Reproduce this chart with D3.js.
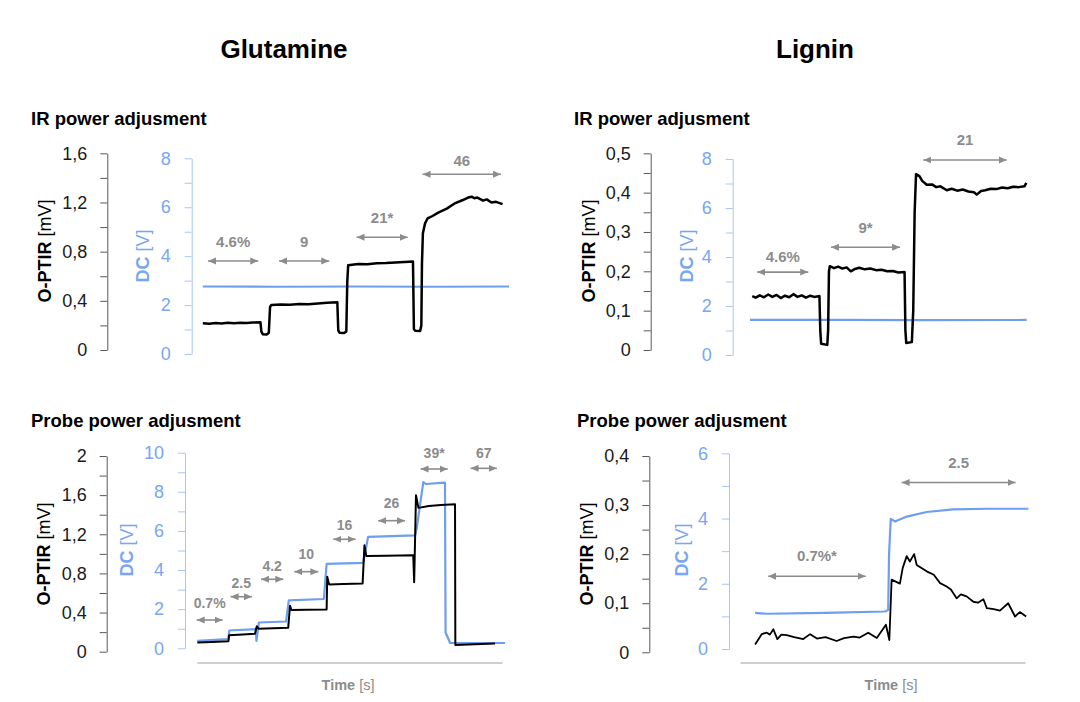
<!DOCTYPE html>
<html>
<head>
<meta charset="utf-8">
<script src="https://cdnjs.cloudflare.com/ajax/libs/d3/7.8.5/d3.min.js"></script>
<style>
  body { margin: 0; background: #fff; }
  svg { display: block; font-family: "Liberation Sans", Arial, sans-serif; }
</style>
</head>
<body>
<div id="chart"></div>
<script>
// ---- data: [time (arbitrary 0-100), value] ----
// Glutamine, IR power adjustment
var glnIrOptir = [[0.9,0.217],[3,0.214],[5,0.219],[7,0.216],[9,0.221],[11,0.218],[13,0.222],[15,0.219],[17,0.223],[19.5,0.225],[19.8,0.15],[20.3,0.128],[21.5,0.126],[22.2,0.14],[22.6,0.35],[23,0.366],[26,0.37],[29,0.368],[32,0.374],[35,0.372],[38,0.379],[41,0.384],[44.3,0.388],[44.6,0.16],[45,0.141],[46.5,0.138],[47.2,0.15],[47.5,0.55],[47.8,0.69],[51,0.7],[54,0.698],[57,0.706],[60,0.708],[63,0.712],[66,0.716],[68.7,0.72],[69,0.17],[69.4,0.157],[71,0.155],[71.4,0.2],[71.6,0.7],[71.9,0.95],[72.6,1.03],[73.4,1.07],[75,1.09],[77,1.12],[79.6,1.15],[82,1.19],[84.8,1.22],[86.5,1.24],[87.6,1.247],[88.5,1.235],[89.5,1.24],[91.3,1.215],[92.5,1.225],[94,1.2],[95.5,1.205],[97.6,1.186]];
var glnIrDc = [[0.9,2.76],[25,2.75],[50,2.76],[75,2.75],[99.7,2.76]];
var glnIrNotes = [
  {label: '4.6%', t0: 2.6, t1: 18.8, level: 0.724, textLevel: 0.879},
  {label: '9', t0: 25.5, t1: 41.7, level: 0.724, textLevel: 0.879},
  {label: '21*', t0: 50.5, t1: 67, level: 0.917, textLevel: 1.074},
  {label: '46', t0: 71.8, t1: 97.1, level: 1.43, textLevel: 1.538}
];

// Lignin, IR power adjustment
var ligIrOptir = [[0.8,0.137],[2,0.133],[3.5,0.139],[5,0.134],[6.5,0.141],[8,0.135],[9.5,0.14],[11,0.132],[12.5,0.138],[14,0.134],[15.5,0.142],[17,0.135],[18.5,0.139],[20,0.133],[21.5,0.138],[23,0.135],[24.8,0.137],[25.1,0.05],[25.4,0.016],[27.6,0.013],[27.9,0.05],[28.2,0.2],[28.5,0.213],[30,0.208],[31.5,0.212],[33,0.207],[34.5,0.21],[36,0.2],[37.5,0.206],[39,0.209],[41,0.205],[43,0.207],[45,0.203],[47,0.204],[49,0.2],[51,0.201],[53,0.197],[55.2,0.198],[55.5,0.05],[55.8,0.018],[57.8,0.02],[58.3,0.1],[58.8,0.35],[59.3,0.447],[60.5,0.442],[61.5,0.43],[63.1,0.42],[65,0.421],[66.5,0.414],[68,0.416],[70.3,0.406],[72,0.41],[74,0.405],[76,0.408],[78,0.403],[80,0.401],[81,0.395],[82.5,0.404],[84,0.406],[86,0.41],[88,0.409],[90,0.413],[92,0.411],[94,0.415],[96,0.414],[98,0.416],[98.7,0.425]];
var ligIrDc = [[0,1.43],[30,1.43],[60,1.42],[98.8,1.43]];
var ligIrNotes = [
  {label: '4.6%', t0: 2.6, t1: 20.8, level: 0.198, textLevel: 0.237},
  {label: '9*', t0: 28.9, t1: 53.6, level: 0.261, textLevel: 0.312},
  {label: '21', t0: 61.9, t1: 91.7, level: 0.483, textLevel: 0.534}
];

// Glutamine, probe power adjustment
var glnProbeOptir = [[0.1,0.095],[5,0.1],[10.3,0.108],[10.5,0.167],[15,0.176],[19,0.184],[19.6,0.26],[20.2,0.235],[25,0.24],[29.9,0.245],[30.5,0.47],[31,0.425],[36,0.428],[42.5,0.432],[42.7,0.767],[43.3,0.688],[48,0.692],[54.3,0.698],[54.9,1.087],[55.5,0.977],[62,0.98],[70.9,0.985],[71.2,0.71],[71.8,1.6],[72.6,1.47],[76,1.49],[80,1.5],[84.6,1.506],[84.7,0.068],[91,0.075],[97.7,0.085]];
var glnProbeDc = [[0.1,0.38],[10.3,0.47],[10.6,0.91],[19.3,0.98],[19.5,0.38],[20.3,1.32],[29.2,1.37],[30.1,2.45],[41.6,2.52],[42.5,4.32],[54.5,4.37],[56.1,5.7],[71.5,5.77],[72,6.1],[74.2,8.5],[75,8.4],[81.3,8.47],[81.5,0.81],[83,0.27],[101,0.27]];
var glnProbeNotes = [
  {label: '0.7%', t0: -0.1, t1: 8.4, level: 0.324, textLevel: 0.495},
  {label: '2.5', t0: 11, t1: 18, level: 0.562, textLevel: 0.705},
  {label: '4.2', t0: 21, t1: 28.3, level: 0.74, textLevel: 0.876},
  {label: '10', t0: 31.9, t1: 39.8, level: 0.818, textLevel: 0.998},
  {label: '16', t0: 44.7, t1: 52, level: 1.149, textLevel: 1.295},
  {label: '26', t0: 59.4, t1: 68.2, level: 1.339, textLevel: 1.517},
  {label: '39*', t0: 73.3, t1: 82.2, level: 1.867, textLevel: 2.034},
  {label: '67', t0: 89.7, t1: 98.3, level: 1.874, textLevel: 2.034}
];

// Lignin, probe power adjustment
var ligProbeOptir = [[5.3,0.016],[7.6,0.037],[9.4,0.04],[10.5,0.036],[11.7,0.047],[13.1,0.027],[14.5,0.036],[16.4,0.035],[19,0.031],[22.2,0.027],[24.6,0.037],[27,0.028],[30,0.031],[33.9,0.023],[36.5,0.029],[39.8,0.032],[42,0.03],[45,0.04],[48,0.029],[51.2,0.056],[52.4,0.025],[53.2,0.148],[56.1,0.14],[57.1,0.172],[58.5,0.196],[59.6,0.185],[61.1,0.2],[62,0.178],[65.5,0.165],[68,0.158],[70.2,0.141],[72.5,0.134],[74,0.128],[76,0.11],[77.5,0.118],[79.5,0.114],[81.9,0.103],[83.5,0.101],[85.4,0.108],[86.6,0.09],[89,0.088],[91.2,0.085],[94.1,0.1],[96.5,0.073],[98.2,0.082],[100.4,0.073]];
var ligProbeDc = [[5.3,1.11],[9.4,1.08],[30,1.11],[50.9,1.15],[52,1.2],[52.3,2.9],[52.9,3.99],[54.4,3.91],[58.5,4.06],[65.5,4.2],[74.8,4.28],[86.6,4.3],[101.2,4.3]];
var ligProbeNotes = [
  {label: '0.7%*', t0: 9.9, t1: 44.1, level: 0.155, textLevel: 0.196},
  {label: '2.5', t0: 56.7, t1: 96.7, level: 0.346, textLevel: 0.387}
];

// ---- layout ----
var panels = [
  {title: 'IR power adjusment', tx: 31, ty: 125, optir: glnIrOptir, dc: glnIrDc, notes: glnIrNotes,
   x0: 200, x1: 510, lMax: 1.6, lStep: 0.4, lB: 350, lT: 153.3, lAx: 107.3,
   dMax: 8, dB: 354, dT: 158.3, dAx: 191.7, labL: [45, 251], labD: [142.7, 256],
   lw: 2.5, timeAxis: false, noteSize: 15},
  {title: 'IR power adjusment', tx: 574, ty: 125, optir: ligIrOptir, dc: ligIrDc, notes: ligIrNotes,
   x0: 750, x1: 1030, lMax: 0.5, lStep: 0.1, lB: 350, lT: 153.3, lAx: 650.7,
   dMax: 8, dB: 355, dT: 159, dAx: 732.7, labL: [588.3, 251], labD: [686.7, 256],
   lw: 2.5, timeAxis: false, noteSize: 15},
  {title: 'Probe power adjusment', tx: 31, ty: 427, optir: glnProbeOptir, dc: glnProbeDc, notes: glnProbeNotes,
   x0: 197, x1: 502, lMax: 2, lStep: 0.4, lB: 651.7, lT: 456, lAx: 106.7,
   dMax: 10, dB: 648.3, dT: 452.7, dAx: 185, labL: [43.3, 554], labD: [126.7, 550],
   lw: 2, timeAxis: true, timeX: 348, noteSize: 14},
  {title: 'Probe power adjusment', tx: 577, ty: 427, optir: ligProbeOptir, dc: ligProbeDc, notes: ligProbeNotes,
   x0: 740, x1: 1025, lMax: 0.4, lStep: 0.1, lB: 652.3, lT: 456, lAx: 649.3,
   dMax: 6, dB: 649, dT: 453.3, dAx: 729, labL: [586.7, 554], labD: [681.7, 550],
   lw: 1.8, timeAxis: true, timeX: 891, noteSize: 15}
];

var BLUE = '#6d9ef0', BLUE_TXT = '#78a6f5', BLUE_AXIS = '#a9c5f5', GREY = '#8c8c8c';

var svg = d3.select('#chart').append('svg')
  .attr('width', 1080)
  .attr('height', 702);

svg.append('defs').append('marker')
  .attr('id', 'arrowhead')
  .attr('markerUnits', 'userSpaceOnUse')
  .attr('markerWidth', 9).attr('markerHeight', 8)
  .attr('refX', 8).attr('refY', 4)
  .attr('orient', 'auto-start-reverse')
  .append('path')
  .attr('d', 'M0,0.5 L8,4 L0,7.5 Z')
  .attr('fill', GREY);

// column headings
svg.append('text').attr('x', 284).attr('y', 58).attr('text-anchor', 'middle')
  .style('font-size', '26px').style('font-weight', 'bold').text('Glutamine');
svg.append('text').attr('x', 815).attr('y', 58).attr('text-anchor', 'middle')
  .style('font-size', '26px').style('font-weight', 'bold').text('Lignin');

function isMultiple(d, step){
  var r = d / step;
  return Math.abs(r - Math.round(r)) < 1e-6;
}

function comma(d){
  return d3.format('.1~f')(d).replace('.', ',');
}

function drawPanel(p){
  var g = svg.append('g');
  var x = d3.scaleLinear().domain([0, 100]).range([p.x0, p.x1]);
  var yL = d3.scaleLinear().domain([0, p.lMax]).range([p.lB, p.lT]);
  var yD = d3.scaleLinear().domain([0, p.dMax]).range([p.dB, p.dT]);

  g.append('text').attr('x', p.tx).attr('y', p.ty)
    .style('font-size', '18.5px').style('font-weight', 'bold').text(p.title);

  // O-PTIR axis
  var lTicks = d3.range(0, p.lMax + 1e-9, p.lStep / 2);
  var axL = g.append('g').attr('transform', 'translate(' + p.lAx + ',0)')
    .call(d3.axisLeft(yL).tickValues(lTicks).tickSize(7).tickSizeOuter(0).tickPadding(13)
      .tickFormat(function(d){ return isMultiple(d, p.lStep) ? comma(d) : ''; }));
  axL.select('.domain').attr('stroke', '#595959');
  axL.selectAll('.tick line').attr('stroke', '#595959');
  axL.selectAll('.tick text').attr('fill', '#1a1a1a').style('font-size', '18px')
    .style('font-family', '"Liberation Sans", Arial, sans-serif');

  // DC axis
  var dTicks = d3.range(0, p.dMax + 1e-9, 1);
  var axD = g.append('g').attr('transform', 'translate(' + p.dAx + ',0)')
    .call(d3.axisLeft(yD).tickValues(dTicks).tickSize(7).tickSizeOuter(0).tickPadding(14)
      .tickFormat(function(d){ return d % 2 === 0 ? d : ''; }));
  axD.select('.domain').attr('stroke', BLUE_AXIS);
  axD.selectAll('.tick line').attr('stroke', BLUE_AXIS);
  axD.selectAll('.tick text').attr('fill', BLUE_TXT).style('font-size', '18px')
    .style('font-family', '"Liberation Sans", Arial, sans-serif');

  // rotated axis titles
  var tL = g.append('text')
    .attr('transform', 'translate(' + p.labL[0] + ',' + p.labL[1] + ') rotate(-90)')
    .attr('text-anchor', 'middle').attr('dy', '0.35em').style('font-size', '18px');
  tL.append('tspan').style('font-weight', 'bold').text('O-PTIR');
  tL.append('tspan').text(' [mV]');
  var tD = g.append('text')
    .attr('transform', 'translate(' + p.labD[0] + ',' + p.labD[1] + ') rotate(-90)')
    .attr('text-anchor', 'middle').attr('dy', '0.35em').style('font-size', '18px').attr('fill', BLUE_TXT);
  tD.append('tspan').style('font-weight', 'bold').text('DC');
  tD.append('tspan').text(' [V]');

  // time axis
  if (p.timeAxis) {
    var axT = g.append('g').attr('transform', 'translate(0,662.5)')
      .call(d3.axisBottom(x).tickValues([]).tickSizeOuter(0));
    axT.select('.domain').attr('stroke', '#bfbfbf').attr('stroke-width', 1.5);
    var tt = g.append('text').attr('x', p.timeX).attr('y', 690).attr('text-anchor', 'middle')
      .attr('fill', GREY).style('font-size', '14.5px');
    tt.append('tspan').style('font-weight', 'bold').text('Time');
    tt.append('tspan').text(' [s]');
  }

  // series
  g.append('path').datum(p.dc)
    .attr('d', d3.line().x(function(d){ return x(d[0]); }).y(function(d){ return yD(d[1]); }))
    .attr('fill', 'none').attr('stroke', BLUE).attr('stroke-width', 2.2)
    .attr('stroke-linejoin', 'round');
  g.append('path').datum(p.optir)
    .attr('d', d3.line().x(function(d){ return x(d[0]); }).y(function(d){ return yL(d[1]); }))
    .attr('fill', 'none').attr('stroke', '#000').attr('stroke-width', p.lw)
    .attr('stroke-linejoin', 'round');

  // power annotations
  var notes = g.selectAll('.note').data(p.notes).enter().append('g').attr('class', 'note');
  notes.append('line')
    .attr('x1', function(d){ return x(d.t0); })
    .attr('x2', function(d){ return x(d.t1); })
    .attr('y1', function(d){ return yL(d.level); })
    .attr('y2', function(d){ return yL(d.level); })
    .attr('stroke', GREY).attr('stroke-width', 1.6)
    .attr('marker-start', 'url(#arrowhead)').attr('marker-end', 'url(#arrowhead)');
  notes.append('text')
    .attr('x', function(d){ return x((d.t0 + d.t1) / 2); })
    .attr('y', function(d){ return yL(d.textLevel); })
    .attr('dy', '0.35em').attr('text-anchor', 'middle')
    .attr('fill', GREY).style('font-size', p.noteSize + 'px').style('font-weight', 'bold')
    .text(function(d){ return d.label; });
}

panels.forEach(drawPanel);
</script>
</body>
</html>
